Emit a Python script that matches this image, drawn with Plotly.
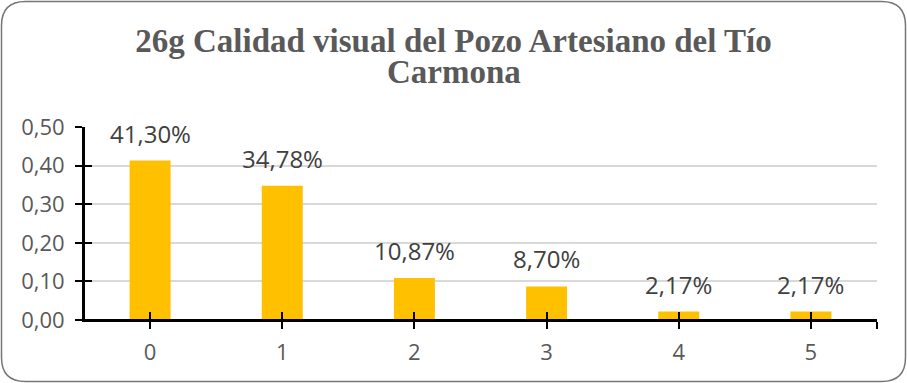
import plotly.graph_objects as go

# Chart data
categories = [0, 1, 2, 3, 4, 5]
proportions = [0.4130, 0.3478, 0.1087, 0.0870, 0.0217, 0.0217]
value_labels = ["41,30%", "34,78%", "10,87%", "8,70%", "2,17%", "2,17%"]
y_ticks = [0.0, 0.1, 0.2, 0.3, 0.4, 0.5]
title_lines = ["26g Calidad visual del Pozo Artesiano del Tío", "Carmona"]

W, H = 907, 383
ML, MR, MT, MB = 84, 30, 127, 63
BAR_COLOR = "#FFC000"
LABEL_FONT = "Open Sans, Liberation Sans, sans-serif"
TITLE_FONT = dict(family="Liberation Serif, Times New Roman, serif",
                  size=33, color="#595959", weight="bold")

# helpers converting figure pixels to paper units
pw, ph = W - ML - MR, H - MT - MB
def px(xp):
    return (xp - ML) / pw
def py(yp):
    return (H - MB - yp) / ph

fig = go.Figure()

fig.add_trace(go.Bar(
    x=categories, y=proportions, width=0.31,
    marker=dict(color=BAR_COLOR, line=dict(width=0)),
    hoverinfo="skip", showlegend=False,
))

# hidden trace carrying the overlay axes used for the inner half of the ticks
fig.add_trace(go.Scatter(
    x=categories, y=proportions, mode="none",
    xaxis="x2", yaxis="y2", showlegend=False, hoverinfo="skip",
))

# value labels above each bar
for c, v, t in zip(categories, proportions, value_labels):
    fig.add_annotation(
        x=c, y=v, text=t, showarrow=False, yanchor="bottom", yshift=9,
        font=dict(family=LABEL_FONT, size=24, color="#404040"),
    )

# second title line, set tighter than the default line spacing
fig.add_annotation(
    text=title_lines[1], xref="paper", yref="paper", x=px(W / 2),
    xanchor="center", y=py(72), yanchor="middle",
    showarrow=False, font=TITLE_FONT,
)

x_tickvals = categories + [categories[-1] + 0.5]
x_ticktext = [str(c) for c in categories] + [""]
x_range = [categories[0] - 0.5, categories[-1] + 0.5]
y_range = [y_ticks[0], y_ticks[-1]]

axis_common = dict(showline=True, linecolor="black", linewidth=2,
                   tickcolor="black", tickwidth=2, ticklen=7, zeroline=False)

fig.update_layout(
    width=W, height=H,
    margin=dict(l=ML, r=MR, t=MT, b=MB),
    paper_bgcolor="white", plot_bgcolor="white",
    separators=",.",
    title=dict(text=title_lines[0], x=0.5, xanchor="center", y=1 - 40 / H,
               yanchor="middle", yref="container", font=TITLE_FONT),
    xaxis=dict(range=x_range, tickmode="array", tickvals=x_tickvals,
               ticktext=x_ticktext, ticks="outside", showgrid=False,
               ticklabelstandoff=5,
               tickfont=dict(family=LABEL_FONT, size=22, color="#595959"),
               **axis_common),
    yaxis=dict(range=y_range, tickmode="array", tickvals=y_ticks,
               tickformat=".2f", ticks="outside", showgrid=True,
               gridcolor="#D9D9D9", gridwidth=1.5, ticklabelstandoff=6,
               tickfont=dict(family=LABEL_FONT, size=22, color="#595959"),
               **axis_common),
    xaxis2=dict(range=x_range, tickmode="array", tickvals=x_tickvals,
                ticks="inside", showticklabels=False, showgrid=False,
                overlaying="x", anchor="free", position=0, **axis_common),
    yaxis2=dict(range=y_range, tickmode="array", tickvals=y_ticks,
                ticks="inside", showticklabels=False, showgrid=False,
                overlaying="y", anchor="free", position=0, side="left",
                **axis_common),
)

# rounded outer border of the chart area
x0, x1, y0, y1, r = 1.5, W - 1.5, 1.5, H - 1.5, 24
path = (
    f"M {px(x0 + r)} {py(y0)} L {px(x1 - r)} {py(y0)} "
    f"Q {px(x1)} {py(y0)} {px(x1)} {py(y0 + r)} "
    f"L {px(x1)} {py(y1 - r)} Q {px(x1)} {py(y1)} {px(x1 - r)} {py(y1)} "
    f"L {px(x0 + r)} {py(y1)} Q {px(x0)} {py(y1)} {px(x0)} {py(y1 - r)} "
    f"L {px(x0)} {py(y0 + r)} Q {px(x0)} {py(y0)} {px(x0 + r)} {py(y0)} Z"
)
fig.add_shape(type="path", path=path, xref="paper", yref="paper",
              line=dict(color="#767676", width=1.5), layer="above")

fig.write_html("out.html")
